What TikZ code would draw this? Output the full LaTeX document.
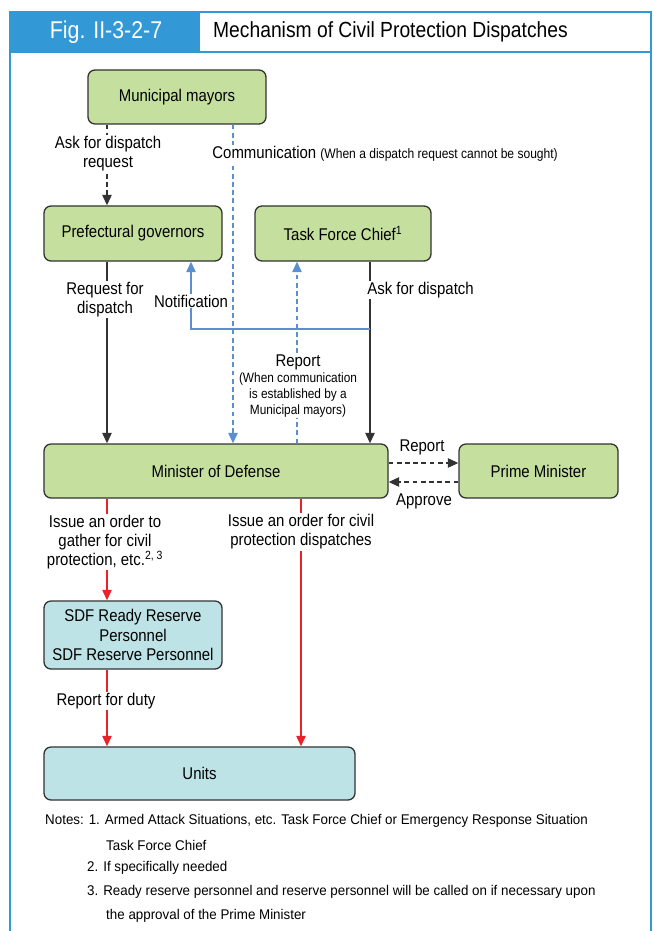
\documentclass[tikz,border=0pt]{standalone}
\usepackage{fontspec}
\setmainfont{Liberation Sans}[FakeStretch=0.88]
\newfontfamily\cpNotesFont{Liberation Sans}[FakeStretch=0.95]
\usetikzlibrary{arrows.meta,positioning}
\definecolor{cpHead}{HTML}{3399D6}
\definecolor{cpGreen}{HTML}{C5DF9E}
\definecolor{cpCyan}{HTML}{BDE3E6}
\definecolor{cpBorder}{HTML}{333333}
\definecolor{cpRed}{HTML}{E8232A}
\definecolor{cpBlue}{HTML}{5B8FD1}
\tikzset{
    cpGreenBox/.style={
        draw=cpBorder,
        line width=1.1pt,
        rounded corners=6pt,
        fill=cpGreen,
        inner sep=2pt,
        font=\fontsize{14.5}{16.6}\selectfont,
        align=center
    },
    cpCyanBox/.style={
        cpGreenBox,
        fill=cpCyan
    },
    cpLabel/.style={fill=white, inner sep=1pt, align=center, font=\fontsize{14.5}{16.2}\selectfont},
    cpNote/.style={anchor=west, inner sep=0pt, font=\cpNotesFont\fontsize{12}{14}\selectfont},
    cpFrame/.style={draw=cpHead, line width=1.6pt},
    cpBlackArrow/.style={-{Triangle[length=9pt,width=8pt]}, line width=1.3pt, cpBorder},
    cpBlackDash/.style={cpBlackArrow, dash pattern=on 4pt off 3pt},
    cpBlueArrow/.style={-{Triangle[length=9pt,width=8pt]}, line width=1.3pt, cpBlue},
    cpBlueDash/.style={cpBlueArrow, dash pattern=on 4pt off 3pt},
    cpRedArrow/.style={-{Triangle[length=9pt,width=8pt]}, line width=1.3pt, cpRed}
}
\begin{document}
\begin{tikzpicture}[x=0.03cm, y=-0.03cm]
    \useasboundingbox (0,0) rectangle (655,931);

    % Header and frame
    \fill[cpHead] (10,12) rectangle (200,52);
    \draw[cpFrame] (10,931) -- (10,12) -- (651,12) -- (651,931);
    \draw[cpFrame] (10,52) -- (651,52);
    \node[text=white, font=\fontsize{20.7}{22}\selectfont] (fig) at (106,32) {Fig. II-3-2-7};
    \node[anchor=west, font=\fontsize{18.7}{21}\selectfont] (title) at (209,32) {Mechanism of Civil Protection Dispatches};

    % Boxes
    \node[cpGreenBox, minimum width=5.34cm, minimum height=1.62cm] (mayors) at (177,97) {Municipal mayors};
    \node[cpGreenBox, minimum width=5.34cm, minimum height=1.65cm] (gov) at (133,233.5) {Prefectural governors};
    \node[cpGreenBox, minimum width=5.28cm, minimum height=1.65cm] (tfc) at (343,233.5) {Task Force Chief\textsuperscript{1}};
    \node[cpGreenBox, minimum width=10.32cm, minimum height=1.62cm] (mod) at (216,471) {Minister of Defense};
    \node[cpGreenBox, minimum width=4.77cm, minimum height=1.62cm] (pm) at (538.5,471) {Prime Minister};
    \node[cpCyanBox, minimum width=5.34cm, minimum height=2.04cm] (sdf) at (133,635) {SDF Ready Reserve\\Personnel\\SDF Reserve Personnel};
    \node[cpCyanBox, minimum width=9.33cm, minimum height=1.59cm] (units) at (199.5,773.5) {Units};

    % Lanes for the connectors
    \coordinate (xb) at (107,0);
    \coordinate (xn) at (191,0);
    \coordinate (xc) at (233,0);
    \coordinate (xr) at (297,0);
    \coordinate (xo) at (301,0);
    \coordinate (xt) at (370,0);
    \coordinate (yrep) at (0,463);
    \coordinate (yapp) at (0,482);
    \coordinate (nj) at (370,329);

    % Connectors
    \draw[cpBlackDash] (mayors.south -| xb) -- (gov.north -| xb);
    \draw[cpBlueDash] (mayors.south -| xc) -- (mod.north -| xc);
    \draw[cpBlackArrow] (gov.south -| xb) -- (mod.north -| xb);
    \draw[cpBlackArrow] (tfc.south -| xt) -- (mod.north -| xt);
    \draw[cpBlueArrow] (nj) -| (gov.south -| xn);
    \draw[cpBlueDash] (mod.north -| xr) -- (tfc.south -| xr);
    \draw[cpBlackDash] (mod.east |- yrep) -- (pm.west |- yrep);
    \draw[cpBlackDash] (pm.west |- yapp) -- (mod.east |- yapp);
    \draw[cpRedArrow] (mod.south -| xb) -- (sdf.north -| xb);
    \draw[cpRedArrow] (mod.south -| xo) -- (units.north -| xo);
    \draw[cpRedArrow] (sdf.south -| xb) -- (units.north -| xb);

    % Labels
    \node[cpLabel] (lask) at (108,154) {Ask for dispatch\\request};
    \node[cpLabel, anchor=west] (lcom) at (211,154) {Communication {\fontsize{11.7}{13}\selectfont (When a dispatch request cannot be sought)}};
    \node[cpLabel] (lreq) at (105,299.5) {Request for\\dispatch};
    \node[cpLabel] (lnot) at (191,301) {Notification};
    \node[cpLabel, anchor=west] (lask2) at (366,290) {Ask for dispatch};
    \node[cpLabel] (lrep) at (298,362) {Report};
    \node[cpLabel, font=\fontsize{11.5}{13.6}\selectfont] (lrepnote) at (298,395) {(When communication\\is established by a\\Municipal mayors)};
    \node[cpLabel, fill=none] (lrep2) at (422,447) {Report};
    \node[cpLabel, fill=none] (lapp) at (424,501) {Approve};
    \node[cpLabel] (lgat) at (105,542) {Issue an order to\\gather for civil\\protection, etc.\textsuperscript{2, 3}};
    \node[cpLabel] (liss) at (301,532) {Issue an order for civil\\protection dispatches};
    \node[cpLabel] (lduty) at (106,701) {Report for duty};

    % Notes
    \node[cpNote] (note1) at (45,821) {Notes: 1. Armed Attack Situations, etc. Task Force Chief or Emergency Response Situation};
    \node[cpNote] (note1b) at (106,845) {Task Force Chief};
    \node[cpNote] (note2) at (87,868) {2. If specifically needed};
    \node[cpNote] (note3) at (87,892) {3. Ready reserve personnel and reserve personnel will be called on if necessary upon};
    \node[cpNote] (note3b) at (106,916) {the approval of the Prime Minister};
\end{tikzpicture}
\end{document}
